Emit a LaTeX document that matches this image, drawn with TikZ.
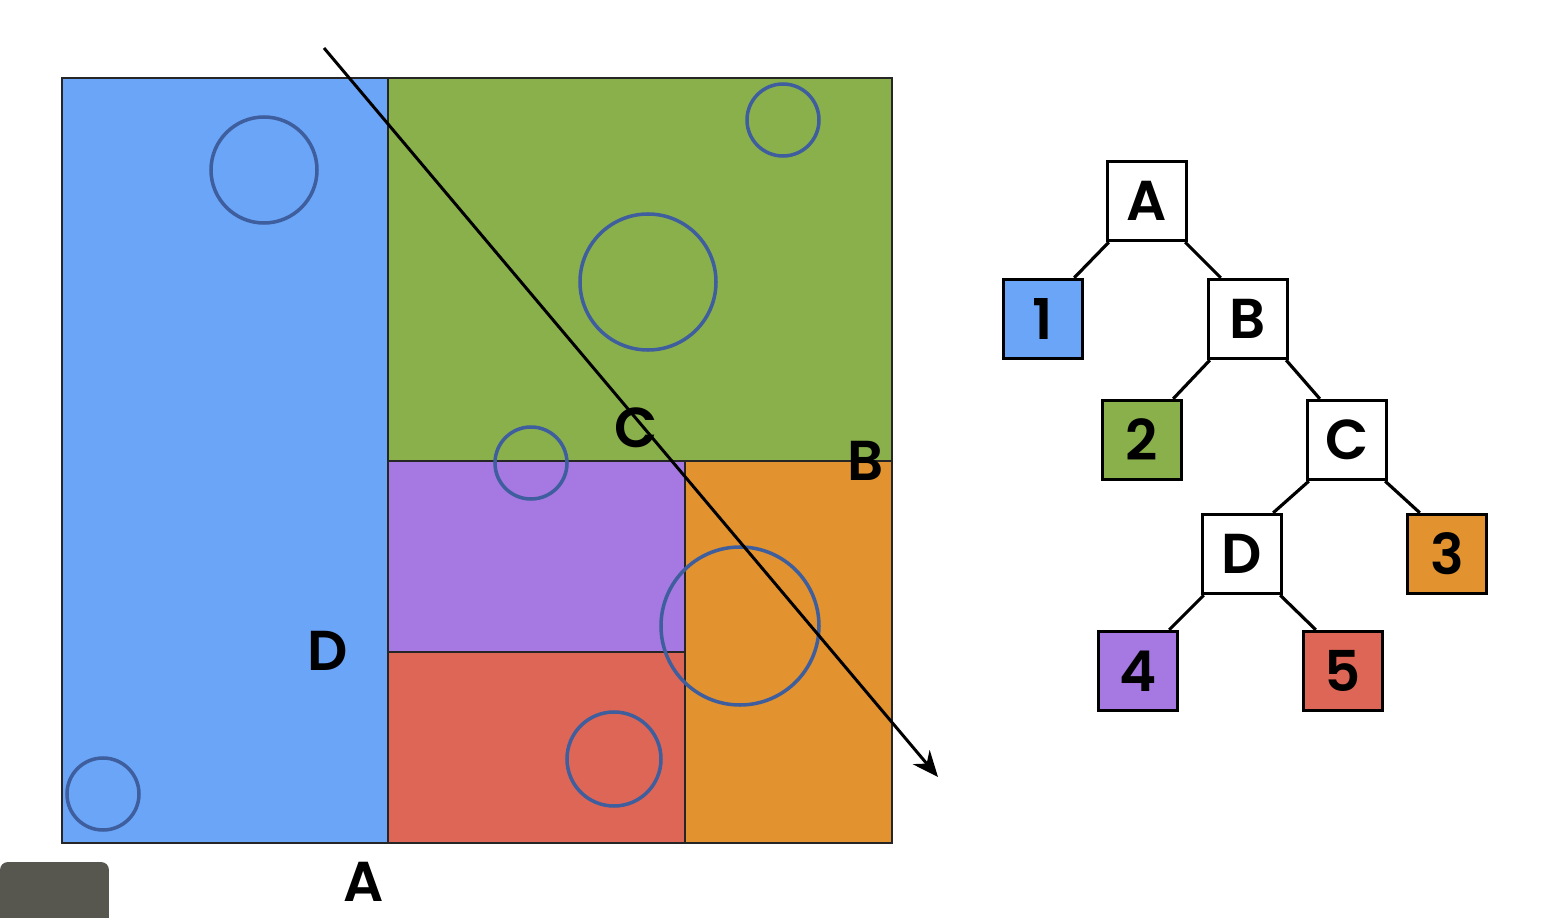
\documentclass[tikz,border=0pt]{standalone}
\usepackage{fontspec}
\setmainfont{Poppins}[BoldFont={Poppins SemiBold}]
\usepackage{xcolor}
\usetikzlibrary{arrows.meta}
\definecolor{rblue}{HTML}{6AA5F8}
\definecolor{rgreen}{HTML}{8AB04C}
\definecolor{rpurple}{HTML}{A678E2}
\definecolor{rred}{HTML}{DE6656}
\definecolor{rorange}{HTML}{E2922E}
\definecolor{ringc}{HTML}{3E5E9E}
\definecolor{camc}{HTML}{57574F}
\tikzset{
  reg/.style={draw=black!85,line width=0.75pt},
  ring/.style={draw=ringc,line width=1pt},
  ray/.style={line width=0.85pt,-{Stealth[length=2.6mm,width=2.2mm]}},
  lbl/.style={font=\fontsize{16}{16}\selectfont\bfseries},
  tb/.style={draw,line width=0.95pt,minimum size=0.79cm,inner sep=0pt,fill=white,font=\fontsize{16}{16}\selectfont\bfseries},
  tedge/.style={line width=0.9pt}
}
\newcommand{\ring}[3]{\draw[ring] (#1,#2) circle (#3);}

\begin{document}
\begin{tikzpicture}
\useasboundingbox (0,0) rectangle (15.43,9.17);
% regions
\filldraw[reg,fill=rblue] (0.62,0.74) rectangle (3.88,8.39);
\filldraw[reg,fill=rgreen] (3.88,4.56) rectangle (8.92,8.39);
\filldraw[reg,fill=rpurple] (3.88,2.65) rectangle (6.85,4.56);
\filldraw[reg,fill=rred] (3.88,0.74) rectangle (6.85,2.65);
\filldraw[reg,fill=rorange] (6.85,0.74) rectangle (8.92,4.56);
% objects
\ring{2.64}{7.47}{0.53}
\ring{7.83}{7.97}{0.36}
\ring{6.48}{6.35}{0.68}
\ring{5.31}{4.54}{0.36}
\ring{7.40}{2.91}{0.79}
\ring{6.14}{1.58}{0.47}
\ring{1.03}{1.23}{0.36}
% ray
\coordinate (rs) at (3.24,8.69);
\coordinate (re) at (9.38,1.40);
\draw[ray] (rs) -- (re);
% split labels
\node[lbl] (lC) at (6.36,4.89) {C};
\node[lbl] (lB) at (8.66,4.56) {B};
\node[lbl] (lD) at (3.28,2.66) {D};
\node[lbl] (lA) at (3.64,0.35) {A};
% tree
\node[tb] (tA) at (11.47,7.16) {A};
\node[tb,fill=rblue] (t1) at (10.43,5.98) {1};
\node[tb] (tB) at (12.48,5.98) {B};
\node[tb,fill=rgreen] (t2) at (11.42,4.77) {2};
\node[tb] (tC) at (13.47,4.77) {C};
\node[tb] (tD) at (12.42,3.63) {D};
\node[tb,fill=rorange] (t3) at (14.47,3.63) {3};
\node[tb,fill=rpurple] (t4) at (11.38,2.46) {4};
\node[tb,fill=rred] (t5) at (13.43,2.46) {5};
\draw[tedge] ([xshift=0.03cm]tA.south west) -- ([xshift=-0.1cm]t1.north east);
\draw[tedge] ([xshift=-0.03cm]tA.south east) -- ([xshift=0.14cm]tB.north west);
\draw[tedge] ([xshift=0.03cm]tB.south west) -- ([xshift=-0.1cm]t2.north east);
\draw[tedge] ([xshift=-0.03cm]tB.south east) -- ([xshift=0.14cm]tC.north west);
\draw[tedge] ([xshift=0.03cm]tC.south west) -- ([xshift=-0.1cm]tD.north east);
\draw[tedge] ([xshift=-0.03cm]tC.south east) -- ([xshift=0.14cm]t3.north west);
\draw[tedge] ([xshift=0.03cm]tD.south west) -- ([xshift=-0.1cm]t4.north east);
\draw[tedge] ([xshift=-0.03cm]tD.south east) -- ([xshift=0.14cm]t5.north west);
% corner box
\fill[camc,rounded corners=0.08cm] (0,-0.1) -- (0,0.55) -- (1.09,0.55) -- (1.09,-0.1) -- cycle;
\end{tikzpicture}
\end{document}
